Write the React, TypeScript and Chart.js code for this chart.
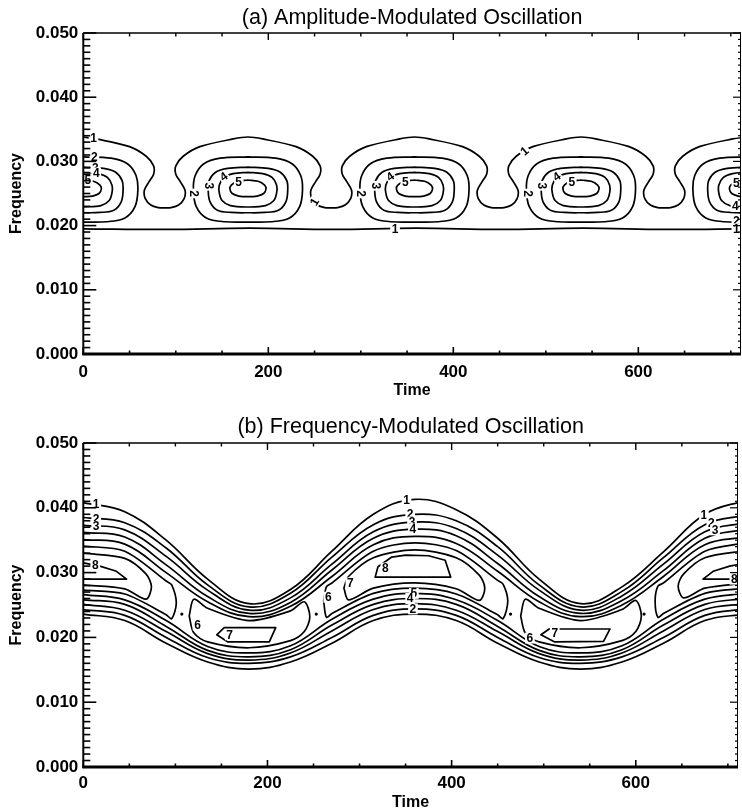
import React, { useEffect, useRef } from 'react';
import { Chart, registerables } from 'chart.js';

Chart.register(...registerables);

type Pt = [number, number];
type Label = [string, number, number, number];

const FONT = "'Liberation Sans', Arial, Helvetica, sans-serif";

// ---------- axes ----------
const timeMax = 711;
const freqMax = 0.05;
const xTickValues = [0, 200, 400, 600];
const yTickValues = [0, 0.01, 0.02, 0.03, 0.04, 0.05];
const xMinorStep = 50;
const yMinorStep = 0.001;
const titleA = '(a) Amplitude-Modulated Oscillation';
const titleB = '(b) Frequency-Modulated Oscillation';
const xAxisTitle = 'Time';
const yAxisTitle = 'Frequency';

// ---------- panel (a): amplitude-modulated ----------
const aLevel1Top: Pt[] = [
  [0, .0338], [14, .0335], [50, .0323], [68, .0308], [76, .0293], [76, .0280], [71, .0268], [66, .0255], [67, .0242], [73, .0232], [81, .0228], [88, .02275], [95, .0228], [103, .0232], [109, .0242], [110, .0255], [105, .0268], [100, .0280], [100, .0293], [108, .0308], [126, .0323], [162, .0335], [178, .0338],
  [194, .0335], [230, .0323], [248, .0308], [256, .0293], [256, .0280], [251, .0268], [246, .0255], [247, .0242], [253, .0232], [261, .0228], [268, .02275], [275, .0228], [283, .0232], [289, .0242], [290, .0255], [285, .0268], [280, .0280], [280, .0293], [288, .0308], [306, .0323], [342, .0335], [358, .0338],
  [374, .0335], [410, .0323], [428, .0308], [436, .0293], [436, .0280], [431, .0268], [426, .0255], [427, .0242], [433, .0232], [441, .0228], [448, .02275], [455, .0228], [463, .0232], [469, .0242], [470, .0255], [465, .0268], [460, .0280], [460, .0293], [468, .0308], [486, .0323], [522, .0335], [538, .0338],
  [554, .0335], [590, .0323], [608, .0308], [616, .0293], [616, .0280], [611, .0268], [606, .0255], [607, .0242], [613, .0232], [621, .0228], [628, .02275], [635, .0228], [643, .0232], [649, .0242], [650, .0255], [645, .0268], [640, .0280], [640, .0293], [648, .0308], [666, .0323], [702, .0335], [718, .0338],
];
const aLevel1Bottom: Pt[] = [[0, .0195], [90, .0194], [180, .0196], [270, .0194], [360, .0196], [450, .0194], [540, .0196], [630, .0194], [720, .0195]];

const a2_0: Pt[] = [[0, .0307], [30, .0305], [48, .0296], [57, .0278], [59, .0256], [56, .0230], [45, .0212], [25, .0206], [0, .02055]];
const a3_0: Pt[] = [[0, .0291], [22, .0289], [35, .0283], [42, .0270], [43, .0255], [41, .0237], [33, .0224], [18, .02205], [0, .0220]];
const a4_0: Pt[] = [[0, .0283], [16, .0281], [26, .0275], [31, .0263], [31, .0251], [28, .0239], [19, .0231], [0, .0229]];
const a5_0: Pt[] = [[0, .0271], [11, .0269], [18, .0263], [19.5, .0257], [17, .0250], [10, .0246], [0, .0245]];

const a2_178: Pt[] = [[178, .0307], [208, .0305], [226, .0296], [235, .0278], [237, .0256], [234, .0230], [223, .0212], [203, .0206], [178, .02055], [153, .0206], [133, .0212], [122, .0230], [119, .0256], [121, .0278], [130, .0296], [148, .0305], [178, .0307]];
const a3_178: Pt[] = [[178, .0291], [200, .0289], [213, .0283], [220, .0270], [221, .0255], [219, .0237], [211, .0224], [196, .02205], [178, .0220], [160, .02205], [145, .0224], [137, .0237], [135, .0255], [136, .0270], [143, .0283], [156, .0289], [178, .0291]];
const a4_178: Pt[] = [[178, .0283], [194, .0281], [204, .0275], [209, .0263], [209, .0251], [206, .0239], [197, .0231], [178, .0229], [159, .0231], [150, .0239], [147, .0251], [147, .0263], [152, .0275], [162, .0281], [178, .0283]];
const a5_178: Pt[] = [[178, .0271], [189, .0269], [196, .0263], [197.5, .0257], [195, .0250], [188, .0246], [178, .0245], [168, .0246], [161, .0250], [158.5, .0257], [160, .0263], [167, .0269], [178, .0271]];

const a2_358: Pt[] = [[358, .0307], [388, .0305], [406, .0296], [415, .0278], [417, .0256], [414, .0230], [403, .0212], [383, .0206], [358, .02055], [333, .0206], [313, .0212], [302, .0230], [299, .0256], [301, .0278], [310, .0296], [328, .0305], [358, .0307]];
const a3_358: Pt[] = [[358, .0291], [380, .0289], [393, .0283], [400, .0270], [401, .0255], [399, .0237], [391, .0224], [376, .02205], [358, .0220], [340, .02205], [325, .0224], [317, .0237], [315, .0255], [316, .0270], [323, .0283], [336, .0289], [358, .0291]];
const a4_358: Pt[] = [[358, .0283], [374, .0281], [384, .0275], [389, .0263], [389, .0251], [386, .0239], [377, .0231], [358, .0229], [339, .0231], [330, .0239], [327, .0251], [327, .0263], [332, .0275], [342, .0281], [358, .0283]];
const a5_358: Pt[] = [[358, .0271], [369, .0269], [376, .0263], [377.5, .0257], [375, .0250], [368, .0246], [358, .0245], [348, .0246], [341, .0250], [338.5, .0257], [340, .0263], [347, .0269], [358, .0271]];

const a2_538: Pt[] = [[538, .0307], [568, .0305], [586, .0296], [595, .0278], [597, .0256], [594, .0230], [583, .0212], [563, .0206], [538, .02055], [513, .0206], [493, .0212], [482, .0230], [479, .0256], [481, .0278], [490, .0296], [508, .0305], [538, .0307]];
const a3_538: Pt[] = [[538, .0291], [560, .0289], [573, .0283], [580, .0270], [581, .0255], [579, .0237], [571, .0224], [556, .02205], [538, .0220], [520, .02205], [505, .0224], [497, .0237], [495, .0255], [496, .0270], [503, .0283], [516, .0289], [538, .0291]];
const a4_538: Pt[] = [[538, .0283], [554, .0281], [564, .0275], [569, .0263], [569, .0251], [566, .0239], [557, .0231], [538, .0229], [519, .0231], [510, .0239], [507, .0251], [507, .0263], [512, .0275], [522, .0281], [538, .0283]];
const a5_538: Pt[] = [[538, .0271], [549, .0269], [556, .0263], [557.5, .0257], [555, .0250], [548, .0246], [538, .0245], [528, .0246], [521, .0250], [518.5, .0257], [520, .0263], [527, .0269], [538, .0271]];

const a2_718: Pt[] = [[718, .02055], [693, .0206], [673, .0212], [662, .0230], [659, .0256], [661, .0278], [670, .0296], [688, .0305], [718, .0307]];
const a3_718: Pt[] = [[718, .0220], [700, .02205], [685, .0224], [677, .0237], [675, .0255], [676, .0270], [683, .0283], [696, .0289], [718, .0291]];
const a4_718: Pt[] = [[718, .0229], [699, .0231], [690, .0239], [687, .0251], [687, .0263], [692, .0275], [702, .0281], [718, .0283]];
const a5_718: Pt[] = [[718, .0245], [708, .0246], [701, .0250], [698.5, .0257], [700, .0263], [707, .0269], [718, .0271]];

const aLabels: Label[] = [
  ['1', 11, .0336, 0], ['2', 12, .0306, 0], ['3', 13, .0290, 0], ['4', 14, .0282, 0], ['5', 5, .0271, 0],
  ['2', 120, .0250, 90], ['3', 136, .0262, 90], ['4', 152, .0276, -35], ['5', 168, .0268, 0],
  ['2', 300, .0250, 90], ['3', 316, .0262, 90], ['4', 332, .0276, -35], ['5', 348, .0268, 0],
  ['2', 480, .0250, 90], ['3', 496, .0262, 90], ['4', 512, .0276, -35], ['5', 528, .0268, 0],
  ['5', 706, .0266, 0], ['4', 705, .0230, 0], ['2', 706, .0207, 0], ['1', 706, .0195, 0],
  ['1', 250, .0237, -60], ['1', 477, .0316, -40], ['1', 337, .0195, 0],
];

// ---------- panel (b): frequency-modulated ----------
const bTimes = [0, 45, 90, 135, 180, 225, 270, 315, 360, 405, 450, 495, 540, 585, 630, 675, 720];
const bUpper1 = [.0408, .0394, .0350, .0290, .0252, .0274, .0333, .0390, .0413, .0397, .0353, .0290, .0252, .0278, .0332, .0390, .0412];
const bUpper2 = [.0385, .0377, .0338, .0281, .0247, .0268, .0324, .0374, .0390, .0380, .0340, .0281, .0247, .0271, .0323, .0374, .0389];
const bUpper3 = [.0373, .0366, .0325, .0273, .0242, .0261, .0313, .0363, .0378, .0368, .0327, .0273, .0242, .0264, .0313, .0363, .0377];
const bUpper4 = [.0362, .0355, .0312, .0263, .0237, .0254, .0304, .0353, .0367, .0357, .0314, .0263, .0237, .0257, .0303, .0353, .0367];
const bUpper5 = [.0351, .0344, .0300, .0255, .0232, .0248, .0294, .0343, .0356, .0345, .0302, .0255, .0232, .0250, .0294, .0343, .0355];
const bLower1 = [.0236, .0226, .0191, .0162, .0151, .0162, .0191, .0226, .0236, .0226, .0191, .0162, .0151, .0162, .0191, .0226, .0236];
const bLower2 = [.0243, .0234, .0200, .0169, .0160, .0170, .0200, .0234, .0244, .0234, .0200, .0169, .0160, .0170, .0200, .0234, .0244];
const bLower3 = [.0251, .0242, .0209, .0175, .0165, .0176, .0210, .0243, .0252, .0242, .0209, .0175, .0165, .0176, .0210, .0243, .0252];
const bLower4 = [.0258, .0251, .0217, .0180, .0170, .0181, .0219, .0251, .0260, .0251, .0217, .0180, .0170, .0181, .0219, .0251, .0260];
const bLower5 = [.0266, .0258, .0226, .0186, .0176, .0187, .0228, .0259, .0268, .0258, .0226, .0186, .0176, .0187, .0228, .0259, .0268];

const b6Peak0: Pt[] = [[0, .0341], [45, .0333], [90, .0287], [96, .0281], [101, .0253], [96, .0229], [90, .0235], [45, .0267], [0, .0273]];
const b6Peak360: Pt[] = [[261, .0256], [264, .0278], [270, .0284], [315, .0333], [360, .0346], [405, .0334], [450, .0288], [456, .0282], [461, .0256], [456, .0229], [450, .0235], [405, .0267], [360, .0276], [315, .0268], [270, .0237], [264, .0231], [261, .0256]];
const b6Peak720: Pt[] = [[720, .0346], [675, .0333], [630, .0284], [624, .0279], [621, .0256], [624, .0231], [630, .0237], [675, .0268], [720, .0276]];
const b6Trough180: Pt[] = [[115, .0233], [120, .0259], [135, .0245], [180, .0226], [225, .0241], [240, .0255], [246, .0232], [240, .0209], [225, .0195], [180, .0184], [135, .0193], [120, .0207], [115, .0233]];
const b6Trough540: Pt[] = [[475, .0233], [480, .0259], [495, .0245], [540, .0226], [585, .0243], [600, .0257], [606, .0233], [600, .0209], [585, .0195], [540, .0184], [495, .0193], [480, .0207], [475, .0233]];

const b7Peak0: Pt[] = [[0, .0330], [45, .0322], [68, .0298], [74, .0278], [68, .0259], [45, .0275], [0, .0281]];
const b7Peak360: Pt[] = [[283, .0276], [288, .0294], [315, .0323], [360, .0335], [405, .0323], [430, .0296], [436, .0276], [430, .0257], [405, .0275], [360, .0284], [315, .0276], [288, .0258], [283, .0276]];
const b7Peak720: Pt[] = [[720, .0334], [675, .0323], [652, .0298], [646, .0279], [652, .0261], [675, .0276], [720, .0284]];
const b7Trough180: Pt[] = [[145, .0204], [153, .0215], [209, .0215], [202, .0193], [157, .0193], [145, .0204]];
const b7Trough540: Pt[] = [[497, .0204], [506, .0213], [572, .0213], [565, .0194], [512, .0193], [497, .0204]];

const b8Peak0: Pt[] = [[0, .0315], [18, .0310], [36, .0302], [47, .0290], [0, .0290]];
const b8Peak360: Pt[] = [[317, .0293], [320, .0309], [335, .0324], [350, .0327], [375, .0326], [393, .0319], [399, .0293], [317, .0293]];
const b8Peak720: Pt[] = [[720, .0315], [702, .0310], [684, .0302], [673, .0290], [720, .0290]];

const bRidgeDots: Pt[] = [[107, .0236], [253, .0236], [464, .0236], [609, .0236]];

const bLabels: Label[] = [
  ['1', 14, .0406, 0], ['2', 14, .0383, 0], ['3', 14, .0371, 0], ['8', 13, .0312, 0],
  ['1', 351, .0412, 0], ['2', 355, .0390, 0], ['3', 357, .0378, 0], ['4', 358, .0367, 0],
  ['8', 328, .0307, 0], ['6', 266, .0262, 0], ['7', 290, .0284, 0],
  ['5', 359, .0268, 0], ['4', 355, .0260, 0], ['2', 358, .0244, 0],
  ['6', 124, .0219, 0], ['7', 159, .0204, 0], ['6', 485, .0199, 0], ['7', 512, .0207, 0],
  ['1', 674, .0389, 0], ['2', 682, .0376, 0], ['3', 686, .0366, 0], ['8', 707, .0290, 0],
];

// ---------- helpers ----------
const toXY = (pts: Pt[]) => pts.map(([x, y]) => ({ x, y }));
const zipXY = (ys: number[]) => bTimes.map((t, i) => ({ x: t, y: ys[i] }));

function lineDs(data: { x: number; y: number }[], tension: number) {
  return {
    data,
    showLine: true,
    borderColor: '#000',
    backgroundColor: '#000',
    borderWidth: 1.7,
    borderJoinStyle: 'round',
    borderCapStyle: 'round',
    pointRadius: 0,
    fill: false,
    tension,
  };
}

const decorPlugin = {
  id: 'contourDecor',
  afterDatasetsDraw(chart: any, _args: any, opts: any) {
    const { ctx, chartArea: a } = chart;
    const x = chart.scales.x;
    const y = chart.scales.y;
    const labels: Label[] = opts.labels || [];
    ctx.save();
    ctx.beginPath();
    ctx.rect(a.left, a.top, a.right - a.left, a.bottom - a.top);
    ctx.clip();
    ctx.font = `bold 12px ${FONT}`;
    ctx.textAlign = 'center';
    ctx.textBaseline = 'middle';
    for (const [text, t, f, rot] of labels) {
      const px = x.getPixelForValue(t);
      const py = y.getPixelForValue(f);
      ctx.save();
      ctx.translate(px, py);
      ctx.rotate((rot * Math.PI) / 180);
      const w = ctx.measureText(text).width;
      ctx.fillStyle = '#fff';
      ctx.fillRect(-w / 2 - 1.5, -5.5, w + 3, 11);
      ctx.fillStyle = '#000';
      ctx.fillText(text, 0, 0.5);
      ctx.restore();
    }
    ctx.restore();
  },
  afterDraw(chart: any) {
    const { ctx, chartArea: a } = chart;
    const x = chart.scales.x;
    const y = chart.scales.y;
    const seg = (x1: number, y1: number, x2: number, y2: number, lw: number) => {
      ctx.lineWidth = lw;
      ctx.beginPath();
      ctx.moveTo(x1, y1);
      ctx.lineTo(x2, y2);
      ctx.stroke();
    };
    ctx.save();
    ctx.strokeStyle = '#000';
    seg(a.left, a.top, a.left, a.bottom + 1, 2);
    seg(a.left - 1, a.bottom, a.right, a.bottom, 3);
    seg(a.left, a.top, a.right, a.top, 1.5);
    seg(a.right - 0.5, a.top, a.right - 0.5, a.bottom, 1);
    for (let i = 0; i * yMinorStep <= freqMax + 1e-9; i++) {
      const py = y.getPixelForValue(i * yMinorStep);
      const major = i % 10 === 0;
      seg(a.left, py, a.left + (major ? 13 : 7), py, 1.6);
      seg(a.right, py, a.right - (major ? 8 : 3), py, 1.2);
    }
    for (let v = 0; v <= timeMax; v += xMinorStep) {
      const px = x.getPixelForValue(v);
      const major = v % 200 === 0;
      seg(px, a.bottom, px, a.bottom - (major ? 7 : 3.5), 1.6);
      seg(px, a.top, px, a.top + (major ? 7 : 3.5), 1.4);
    }
    ctx.restore();
  },
};

type Geom = { titleTop: number; titleBottom: number; padBottom: number; xHeight: number; xPad: number };

function buildConfig(title: string, datasets: any[], labels: Label[], g: Geom): any {
  return {
    type: 'scatter',
    data: { datasets },
    options: {
      responsive: false,
      maintainAspectRatio: false,
      animation: false,
      devicePixelRatio: 1,
      events: [],
      layout: { padding: { top: 0, left: 0, right: 1, bottom: g.padBottom } },
      plugins: {
        legend: { display: false },
        tooltip: { enabled: false },
        title: {
          display: true,
          text: title,
          color: '#000',
          fullSize: false,
          font: { family: FONT, size: 21.5, weight: 'normal' },
          padding: { top: g.titleTop, bottom: g.titleBottom },
        },
        contourDecor: { labels },
      },
      scales: {
        x: {
          type: 'linear',
          min: 0,
          max: timeMax,
          grid: { display: false, drawTicks: false },
          border: { display: false },
          afterBuildTicks: (s: any) => {
            s.ticks = xTickValues.map((v) => ({ value: v }));
          },
          afterFit: (s: any) => {
            s.height = g.xHeight;
          },
          ticks: {
            color: '#000',
            font: { family: FONT, size: 17, weight: 'bold' },
            padding: g.xPad,
            autoSkip: false,
            maxRotation: 0,
            callback: (v: any) => String(v),
          },
          title: {
            display: true,
            text: xAxisTitle,
            color: '#000',
            font: { family: FONT, size: 16, weight: 'bold' },
            padding: { top: 0, bottom: 0 },
          },
        },
        y: {
          type: 'linear',
          min: 0,
          max: freqMax,
          grid: { display: false, drawTicks: false },
          border: { display: false },
          afterBuildTicks: (s: any) => {
            s.ticks = yTickValues.map((v) => ({ value: v }));
          },
          afterFit: (s: any) => {
            s.width = 83.3;
          },
          ticks: {
            color: '#000',
            font: { family: FONT, size: 17, weight: 'bold' },
            padding: 5,
            autoSkip: false,
            callback: (v: any) => Number(v).toFixed(3),
          },
          title: {
            display: true,
            text: yAxisTitle,
            color: '#000',
            font: { family: FONT, size: 16, weight: 'bold' },
            padding: { top: 7, bottom: 0 },
          },
        },
      },
    },
    plugins: [decorPlugin],
  };
}

function configA() {
  const closed = [
    a2_0, a3_0, a4_0, a5_0,
    a2_178, a3_178, a4_178, a5_178,
    a2_358, a3_358, a4_358, a5_358,
    a2_538, a3_538, a4_538, a5_538,
    a2_718, a3_718, a4_718, a5_718,
  ];
  const datasets = [
    lineDs(toXY(aLevel1Top), 0.3),
    lineDs(toXY(aLevel1Bottom), 0.4),
    ...closed.map((c) => lineDs(toXY(c), 0.35)),
  ];
  return buildConfig(titleA, datasets, aLabels, { titleTop: 5, titleBottom: 2.2, padBottom: 6, xHeight: 46, xPad: 7.8 });
}

function configB() {
  const lines = [bUpper1, bUpper2, bUpper3, bUpper4, bUpper5, bLower1, bLower2, bLower3, bLower4, bLower5];
  const regionsSmooth = [b6Peak0, b6Peak360, b6Peak720, b6Trough180, b6Trough540, b7Peak0, b7Peak360, b7Peak720];
  const regionsFlat = [b7Trough180, b7Trough540, b8Peak0, b8Peak360, b8Peak720];
  const datasets: any[] = [
    ...lines.map((l) => lineDs(zipXY(l), 0.4)),
    ...regionsSmooth.map((r) => lineDs(toXY(r), 0.3)),
    ...regionsFlat.map((r) => lineDs(toXY(r), 0)),
    {
      data: toXY(bRidgeDots),
      showLine: false,
      pointRadius: 1.6,
      pointBackgroundColor: '#000',
      pointBorderColor: '#000',
      pointBorderWidth: 0,
    },
  ];
  return buildConfig(titleB, datasets, bLabels, { titleTop: 8, titleBottom: 3.2, padBottom: 0, xHeight: 45, xPad: 5.8 });
}

function Panel({ make }: { make: () => any }) {
  const ref = useRef<HTMLCanvasElement | null>(null);
  useEffect(() => {
    if (!ref.current) return;
    const chart = new Chart(ref.current, make());
    return () => chart.destroy();
  }, [make]);
  return <canvas ref={ref} width={742} height={406} style={{ display: 'block', width: 742, height: 406 }} />;
}

export default function App() {
  return (
    <div style={{ position: 'absolute', left: 0, top: 0, width: 742, height: 812, background: '#fff', overflow: 'hidden' }}>
      <Panel make={configA} />
      <Panel make={configB} />
    </div>
  );
}
